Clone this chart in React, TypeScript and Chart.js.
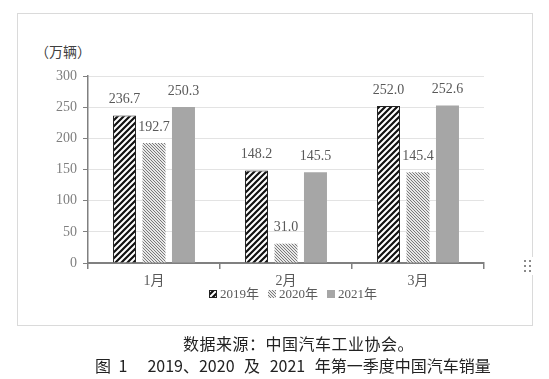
import React, { useEffect, useRef } from 'react';
import { Chart, registerables } from 'chart.js';

Chart.register(...registerables);

const categories = ['1月', '2月', '3月'];
const seriesNames = ['2019年', '2020年', '2021年'];
const sales2019 = [236.7, 148.2, 252.0];
const sales2020 = [192.7, 31.0, 145.4];
const sales2021 = [250.3, 145.5, 252.6];
const yMin = 0;
const yMax = 300;
const yStep = 50;
const unitLabel = '（万辆）';
const sourceText = '数据来源：中国汽车工业协会。';
const figNo = '图 1';
const figTitle = '2019、2020 及 2021 年第一季度中国汽车销量';

const SERIF = "'Liberation Serif', 'Noto Sans CJK SC', serif";

function makeHatch(size: number, color: string, lw: number, forward: boolean, bg: string): CanvasPattern {
  const c = document.createElement('canvas');
  c.width = size;
  c.height = size;
  const g = c.getContext('2d')!;
  g.fillStyle = bg;
  g.fillRect(0, 0, size, size);
  g.strokeStyle = color;
  g.lineWidth = lw;
  g.beginPath();
  if (forward) {
    g.moveTo(-1, size + 1);
    g.lineTo(size + 1, -1);
    g.moveTo(-2, 2);
    g.lineTo(2, -2);
    g.moveTo(size - 2, size + 2);
    g.lineTo(size + 2, size - 2);
  } else {
    g.moveTo(-1, -1);
    g.lineTo(size + 1, size + 1);
    g.moveTo(-2, size - 2);
    g.lineTo(2, size + 2);
    g.moveTo(size - 2, -2);
    g.lineTo(size + 2, 2);
  }
  g.stroke();
  return g.createPattern(c, 'repeat')!;
}

export default function App() {
  const ref = useRef<HTMLCanvasElement>(null);

  useEffect(() => {
    const ctx = ref.current!.getContext('2d')!;
    const p2019 = makeHatch(6, '#111', 2.2, true, '#fff');
    const p2020 = makeHatch(3, '#7a7a7a', 1, false, '#e8e8e8');
    const c2021 = '#a6a6a6';
    const fills = [p2019, p2020, c2021];
    const borders = ['#222', 'rgba(0,0,0,0)', 'rgba(0,0,0,0)'];

    const valueLabels = {
      id: 'valueLabels',
      afterDatasetsDraw(chart: any) {
        const g = chart.ctx;
        g.save();
        g.font = `14px ${SERIF}`;
        g.fillStyle = '#595959';
        g.textAlign = 'center';
        g.textBaseline = 'middle';
        chart.data.datasets.forEach((ds: any, i: number) => {
          const meta = chart.getDatasetMeta(i);
          meta.data.forEach((bar: any, j: number) => {
            g.fillText(Number(ds.data[j]).toFixed(1), bar.x, bar.y - 16);
          });
        });
        g.restore();
      },
    };

    const customLegend = {
      id: 'customLegend',
      afterDraw(chart: any) {
        const g = chart.ctx;
        const area = chart.chartArea;
        g.save();
        g.font = `13px ${SERIF}`;
        const box = 8;
        const gapText = 3;
        const gapItem = 9;
        const widths = seriesNames.map((n) => g.measureText(n).width);
        const total = widths.reduce((a, w) => a + box + gapText + w, 0) + gapItem * (seriesNames.length - 1);
        let x = (area.left + area.right) / 2 + 7 - total / 2;
        const y = 294;
        seriesNames.forEach((n, i) => {
          g.fillStyle = fills[i];
          g.fillRect(x, y - box / 2, box, box);
          if (i === 0) {
            g.strokeStyle = '#222';
            g.lineWidth = 1;
            g.strokeRect(x + 0.5, y - box / 2 + 0.5, box - 1, box - 1);
          }
          x += box + gapText;
          g.fillStyle = '#595959';
          g.textAlign = 'left';
          g.textBaseline = 'middle';
          g.fillText(n, x, y + 1);
          x += widths[i] + gapItem;
        });
        g.restore();
      },
    };

    const chart = new Chart(ctx, {
      type: 'bar',
      data: {
        labels: categories,
        datasets: [sales2019, sales2020, sales2021].map((d, i) => ({
          label: seriesNames[i],
          data: d,
          backgroundColor: fills[i] as any,
          borderColor: borders[i],
          borderWidth: i === 0 ? 1 : 0,
          categoryPercentage: 0.67,
          barPercentage: 0.78,
        })),
      },
      options: {
        animation: false,
        responsive: true,
        maintainAspectRatio: false,
        layout: { padding: { left: 0, top: 76, right: 65, bottom: 0 } },
        plugins: {
          legend: { display: false },
          tooltip: { enabled: false },
        },
        scales: {
          x: {
            afterFit: (scale: any) => {
              scale.height = 116;
            },
            grid: {
              display: true,
              drawOnChartArea: false,
              drawTicks: true,
              tickLength: 6,
              color: '#808080',
              lineWidth: 1.5,
              offset: true,
            },
            border: { display: true, color: '#808080', width: 2 },
            ticks: {
              color: '#595959',
              font: { family: SERIF, size: 14 },
              padding: 4,
            },
          },
          y: {
            min: yMin,
            max: yMax,
            afterFit: (scale: any) => {
              scale.width = 88;
            },
            grid: {
              color: '#e3e3e3',
              lineWidth: 1,
              drawTicks: true,
              tickLength: 5,
              tickColor: '#808080',
            },
            border: { display: true, color: '#808080', width: 1.5 },
            ticks: {
              stepSize: yStep,
              color: '#7f7f7f',
              font: { family: SERIF, size: 14 },
              padding: 6,
            },
          },
        },
      },
      plugins: [valueLabels, customLegend],
    });
    return () => chart.destroy();
  }, []);

  const dots: React.ReactNode[] = [];
  [0, 1].forEach((c) =>
    [0, 1, 2].forEach((r) =>
      dots.push(
        <div
          key={`${c}-${r}`}
          style={{
            position: 'absolute',
            left: 2 + c * 4.5,
            top: 3 + r * 5,
            width: 2,
            height: 2,
            background: '#8a8a8a',
          }}
        />
      )
    )
  );

  return (
    <div style={{ position: 'fixed', left: 0, top: 0, width: 549, height: 379, background: '#fff', overflow: 'hidden' }}>
      <div
        style={{
          position: 'absolute',
          left: 17,
          top: 13,
          width: 514,
          height: 311,
          border: '1px solid #dadada',
          background: '#fff',
        }}
      />
      <div
        style={{
          position: 'absolute',
          left: 35,
          top: 41,
          font: "14px 'Noto Sans CJK SC', sans-serif",
          color: '#404040',
          whiteSpace: 'nowrap',
        }}
      >
        {unitLabel}
      </div>
      <div style={{ position: 'absolute', left: 0, top: 0, width: 549, height: 379 }}>
        <canvas ref={ref} />
      </div>
      <div style={{ position: 'absolute', left: 522, top: 257, width: 12, height: 18, background: '#fff' }}>{dots}</div>
      <div
        style={{
          position: 'absolute',
          left: 183,
          top: 333,
          font: "16px 'Noto Sans CJK SC', sans-serif",
          color: '#222',
          whiteSpace: 'nowrap',
          lineHeight: '20px',
          letterSpacing: '0.5px',
        }}
      >
        {sourceText}
      </div>
      <div
        style={{
          position: 'absolute',
          left: 95,
          top: 355,
          font: "16px 'Noto Sans CJK SC', sans-serif",
          color: '#222',
          whiteSpace: 'pre',
          lineHeight: '20px',
        }}
      >
        <span style={{ wordSpacing: 4 }}>{figNo}</span>
        <span style={{ marginLeft: 20, wordSpacing: 6 }}>{figTitle}</span>
      </div>
    </div>
  );
}
